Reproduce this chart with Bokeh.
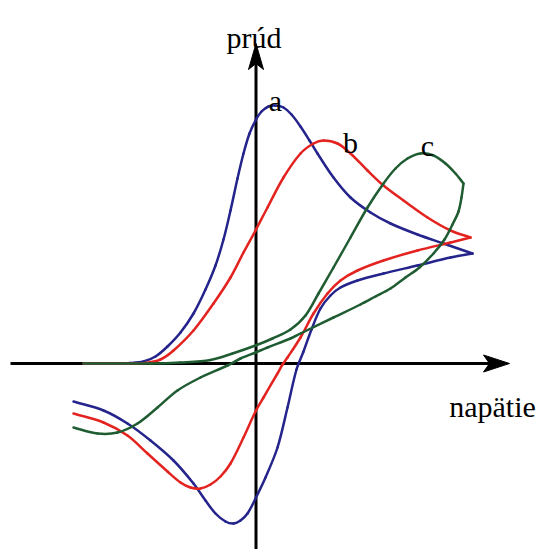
from bokeh.plotting import figure
from bokeh.models import Range1d
from bokeh.core.properties import value
from bokeh.embed import file_html
from bokeh.resources import INLINE

# Cyclic voltammograms a, b, c (arbitrary units): forward sweep then reverse sweep
a_fwd_E = [-172, -145, -125, -112, -100, -88, -75, -62, -50, -40, -32, -25, -18, -12, -6, 0, 6, 13, 20, 28, 36, 45, 54, 62, 78, 95, 115, 135, 162, 188, 217]
a_fwd_I = [0, 0, 0.5, 2, 7, 17, 31, 50, 74, 98, 124, 153, 185, 210, 230, 243, 252, 257, 258, 256, 249, 237, 223, 210, 186, 166, 151, 140, 129, 120, 110]
a_rev_E = [217, 195, 162, 128, 102, 85, 75, 65, 56, 48, 41, 32, 22, 10, 0, -8, -15, -22, -30, -40, -50, -62, -82, -105, -128, -152, -182]
a_rev_I = [110, 106, 98, 90, 83, 76, 68, 55, 34, 12, -6, -44, -84, -114, -135, -150, -157, -160, -158, -150, -137, -120, -97, -77, -60, -47, -38]

b_fwd_E = [-172, -135, -110, -95, -82, -62, -42, -25, -12, 0, 12, 28, 45, 58, 68, 82, 95, 112, 128, 148, 172, 195, 215]
b_fwd_I = [0, 0, 0.5, 4, 13, 33, 60, 86, 111, 133, 156, 186, 210, 220, 223, 220, 210, 193, 178, 163, 146, 133, 126]
b_rev_E = [215, 195, 162, 128, 102, 85, 72, 58, 45, 32, 27, 22, 8, 0, -12, -25, -35, -45, -55, -65, -75, -88, -108, -128, -152, -182]
b_rev_I = [126, 121, 113, 103, 93, 83, 70, 50, 26, 6, -1, -10, -34, -48, -74, -100, -113, -121, -125, -124, -119, -108, -90, -72, -59, -50]

c_fwd_E = [-172, -105, -75, -45, -23, 0, 17, 35, 50, 63, 78, 95, 112, 128, 140, 152, 165, 178, 190, 200, 208]
c_fwd_I = [0, 0, 1, 3.5, 10, 18, 25, 34, 48, 70, 96, 126, 156, 180, 195, 205, 210, 208, 200, 190, 180]
c_rev_E = [208, 206, 203, 197, 189, 178, 164, 150, 135, 120, 105, 78, 45, 35, 12, 0, -15, -28, -55, -78, -98, -118, -138, -158, -182]
c_rev_I = [180, 166, 152, 139, 124, 110, 96, 86, 75, 67, 59, 46, 30, 25, 16, 11, 5, -2, -14, -27, -44, -60, -69, -70, -64]

curve_names = ["a", "b", "c"]
curve_colors = ["#24248c", "#e3231f", "#1f5c32"]
label_E = [20, 95, 172]
label_I = [263, 221, 218]

axis_label_x = "napätie"
axis_label_y = "prúd"

# axis extents (same units as the data)
X_MIN, X_TIP = -245, 254
Y_MIN, Y_TIP = -186, 320
HEAD_LEN, HEAD_HALF, NOTCH = 26, 7.5, 20


def smooth_segments(E, I):
    """Cubic Bezier pieces through the sampled points (chord-length tangents)."""
    n = len(E)
    d = [((E[k + 1] - E[k]) ** 2 + (I[k + 1] - I[k]) ** 2) ** 0.5 for k in range(n - 1)]
    tx, ty = [], []
    for k in range(n):
        if k == 0:
            dx, dy, s = E[1] - E[0], I[1] - I[0], d[0]
        elif k == n - 1:
            dx, dy, s = E[-1] - E[-2], I[-1] - I[-2], d[-1]
        else:
            dx, dy, s = E[k + 1] - E[k - 1], I[k + 1] - I[k - 1], d[k - 1] + d[k]
        tx.append(dx / s)
        ty.append(dy / s)
    seg = dict(x0=[], y0=[], x1=[], y1=[], cx0=[], cy0=[], cx1=[], cy1=[])
    for k in range(n - 1):
        h = d[k] / 3.0
        seg["x0"].append(E[k]); seg["y0"].append(I[k])
        seg["x1"].append(E[k + 1]); seg["y1"].append(I[k + 1])
        seg["cx0"].append(E[k] + tx[k] * h); seg["cy0"].append(I[k] + ty[k] * h)
        seg["cx1"].append(E[k + 1] - tx[k + 1] * h); seg["cy1"].append(I[k + 1] - ty[k + 1] * h)
    return seg


p = figure(width=539, height=549, output_backend="svg", toolbar_location=None,
           x_range=Range1d(-255, 284), y_range=Range1d(-186, 363),
           min_border=0, outline_line_color=None)
p.axis.visible = False
p.grid.visible = False
p.background_fill_color = "white"
p.border_fill_color = "white"

# coordinate axes with arrowheads
p.line([X_MIN, X_TIP - NOTCH], [0, 0], line_color="black", line_width=3)
p.line([0.5, 0.5], [Y_MIN, Y_TIP - NOTCH], line_color="black", line_width=3)
p.patch([X_TIP, X_TIP - HEAD_LEN, X_TIP - NOTCH, X_TIP - HEAD_LEN],
        [0, HEAD_HALF + 1, 0, -HEAD_HALF - 1], color="black")
p.patch([0.5, 0.5 + HEAD_HALF, 0.5, 0.5 - HEAD_HALF],
        [Y_TIP, Y_TIP - HEAD_LEN, Y_TIP - NOTCH, Y_TIP - HEAD_LEN], color="black")

branches = [
    (a_fwd_E, a_fwd_I, 0), (a_rev_E, a_rev_I, 0),
    (b_fwd_E, b_fwd_I, 1), (b_rev_E, b_rev_I, 1),
    (c_fwd_E, c_fwd_I, 2), (c_rev_E, c_rev_I, 2),
]
for E, I, ci in branches:
    seg = smooth_segments(E, I)
    p.bezier(x0=seg["x0"], y0=seg["y0"], x1=seg["x1"], y1=seg["y1"],
             cx0=seg["cx0"], cy0=seg["cy0"], cx1=seg["cx1"], cy1=seg["cy1"],
             line_color=curve_colors[ci], line_width=2.5, line_cap="round")

font = value("'Liberation Serif'")
p.text(x=label_E, y=label_I, text=curve_names, text_font=font,
       text_font_size="30px", text_align="center", text_baseline="alphabetic",
       text_color="black")
p.text(x=[-1.5], y=[326], text=[axis_label_y], text_font=font,
       text_font_size="30px", text_align="center", text_baseline="alphabetic",
       text_color="black")
p.text(x=[237], y=[-43], text=[axis_label_x], text_font=font,
       text_font_size="30px", text_align="center", text_baseline="alphabetic",
       text_color="black")

open("out.html", "w").write(file_html(p, INLINE))
